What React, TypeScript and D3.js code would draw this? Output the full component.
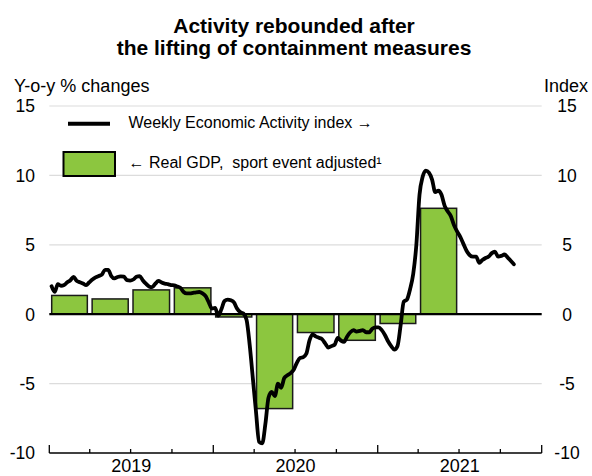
import React from "react";
import * as d3 from "d3";

const titleLines = ["Activity rebounded after", "the lifting of containment measures"];
const leftAxisTitle = "Y-o-y % changes";
const rightAxisTitle = "Index";
const yearLabels = ["2019", "2020", "2021"];
const yTicks = [15, 10, 5, 0, -5, -10];
const lineLegend = "Weekly Economic Activity index \u2192";
const barLegend = "\u2190 Real GDP,  sport event adjusted\u00B9";

// Quarterly real GDP, y-o-y % (2019Q1 .. 2021Q2)
const gdpQuarters = ["2019-01-01", "2019-04-01", "2019-07-01", "2019-10-01", "2020-01-01", "2020-04-01", "2020-07-01", "2020-10-01", "2021-01-01", "2021-04-01"];
const gdpValues = [1.35, 1.1, 1.75, 1.9, -0.2, -6.8, -1.32, -1.88, -0.67, 7.63];

// Weekly Economic Activity index, weekly from 2019-01-06
const weaStart = "2019-01-06";
const weaValues = [
  2.02, 1.61, 2.16, 2.05, 2.1, 2.3, 2.45, 2.69, 2.4, 2.3,
  2.21, 2.09, 2.3, 2.5, 2.65, 2.75, 2.85, 3.2, 3.2, 2.75,
  2.58, 2.68, 2.72, 2.7, 2.45, 2.42, 2.5, 2.7, 2.75, 2.45,
  2.2, 2.0, 1.95, 2.2, 2.4, 2.28, 2.2, 2.16, 2.1, 2.08,
  2.0, 1.9, 1.6, 1.5, 1.5, 1.54, 1.58, 1.6, 1.5, 1.3,
  0.85, 0.4, 0.45, -0.1, 0.35, 0.95, 1.05, 1.0, 0.85, 0.4,
  0.15, 0.05, -0.4, -2.2, -4.6, -7.0, -9.2, -9.3, -7.9, -6.0,
  -5.6, -5.9, -5.0, -5.3, -4.6, -4.4, -4.25, -4.0, -3.5, -3.15,
  -3.1, -2.85, -1.9, -1.45, -1.6, -1.7, -1.8, -2.1, -2.4, -2.3,
  -2.2, -1.7, -1.9, -2.0, -1.6, -1.3, -1.15, -1.25, -1.2, -1.15,
  -1.3, -1.3, -1.05, -0.95, -0.95, -1.15, -1.5, -1.95, -2.3, -2.55,
  -2.3, -0.8, 0.9, 1.05, 1.8, 2.9, 5.0, 8.6, 9.9, 10.35,
  10.2, 9.7, 8.8, 8.9, 8.6, 7.8, 7.4, 7.05, 6.4, 5.95,
  5.55, 5.05, 4.55, 4.25, 4.15, 4.15, 3.7, 3.9, 4.05, 4.15,
  4.4, 4.5, 4.15, 4.2, 4.3, 4.1, 3.85, 3.6,
];

const W = 592;
const H = 476;
const FONT = "'Liberation Sans', Arial, sans-serif";

export default function App() {
  const parse = d3.utcParse("%Y-%m-%d");
  const x = d3
    .scaleUtc()
    .domain([parse("2019-01-01")!, parse("2022-01-01")!])
    .range([49.3, 541.7]);
  const y = d3.scaleLinear().domain([-10, 15]).range([453, 106]);

  const start = parse(weaStart)!;
  const weekly = weaValues.map((v, i) => ({ date: d3.utcWeek.offset(start, i), value: v }));
  const line = d3
    .line<{ date: Date; value: number }>()
    .x((d) => x(d.date))
    .y((d) => y(d.value))
    .curve(d3.curveMonotoneX);

  const bars = gdpQuarters.map((q, i) => {
    const s = parse(q)!;
    const e = d3.utcMonth.offset(s, 3);
    return { s, e, v: gdpValues[i] };
  });

  const quarterTicks = d3.utcMonth.every(3)!.range(parse("2019-01-01")!, parse("2022-01-02")!);
  const years = yearLabels.map((yl) => {
    const s = parse(`${yl}-01-01`)!;
    const e = d3.utcYear.offset(s, 1);
    return { label: yl, mid: (x(s) + x(e)) / 2 };
  });

  const [x0, x1] = x.range();

  return (
    <svg width={W} height={H} style={{ position: "absolute", left: 0, top: 0, background: "#fff" }} fontFamily={FONT}>
      {titleLines.map((t, i) => (
        <text key={t} x={294} y={33 + i * 22} textAnchor="middle" fontSize={21} fontWeight="bold" fill="#000">
          {t}
        </text>
      ))}
      <text x={14} y={91.5} fontSize={18} fill="#000">{leftAxisTitle}</text>
      <text x={588} y={91.5} fontSize={18} fill="#000" textAnchor="end">{rightAxisTitle}</text>

      {yTicks.filter((t) => t !== 0 && t !== -10).map((t) => (
        <line key={"g" + t} x1={x0} x2={x1} y1={y(t)} y2={y(t)} stroke="#dcdcdc" strokeWidth={1.2} />
      ))}

      {yTicks.map((t) => (
        <g key={"l" + t}>
          <text x={35} y={y(t)} dy="0.36em" textAnchor="end" fontSize={17.5} fill="#000">{t}</text>
          <text x={567} y={y(t)} dy="0.36em" textAnchor="middle" fontSize={17.5} fill="#000">{t}</text>
        </g>
      ))}

      {bars.map((b, i) => {
        const bx = x(b.s) + 2.4;
        const bw = x(b.e) - x(b.s) - 4.8;
        const top = y(Math.max(0, b.v));
        const h = Math.abs(y(b.v) - y(0));
        return <rect key={i} x={bx} y={top} width={bw} height={h} fill="#8cc63f" stroke="#1a1a1a" strokeWidth={1.5} />;
      })}

      <line x1={x0} x2={x1} y1={y(0)} y2={y(0)} stroke="#000" strokeWidth={2.2} />

      <path d={line(weekly) ?? ""} fill="none" stroke="#000" strokeWidth={3.8} strokeLinejoin="round" strokeLinecap="round" />

      <line x1={x0} x2={x1} y1={y(-10)} y2={y(-10)} stroke="#000" strokeWidth={1.5} />
      {quarterTicks.map((d, i) => {
        const isYear = d.getUTCMonth() === 0;
        return (
          <line key={"t" + i} x1={x(d)} x2={x(d)} y1={y(-10)} y2={y(-10) - (isYear ? 8 : 4)} stroke="#000" strokeWidth={1.3} />
        );
      })}
      {years.map((yy) => (
        <text key={yy.label} x={yy.mid} y={472} textAnchor="middle" fontSize={18} fill="#000">{yy.label}</text>
      ))}

      <line x1={68} x2={110} y1={123.8} y2={123.8} stroke="#000" strokeWidth={4} />
      <text x={128.5} y={128} fontSize={16} fill="#000">{lineLegend}</text>
      <rect x={63.5} y={152} width={51.5} height={24} fill="#8cc63f" stroke="#000" strokeWidth={2} />
      <text x={128.5} y={168} fontSize={16} fill="#000" style={{ whiteSpace: "pre" }}>{barLegend}</text>
    </svg>
  );
}
